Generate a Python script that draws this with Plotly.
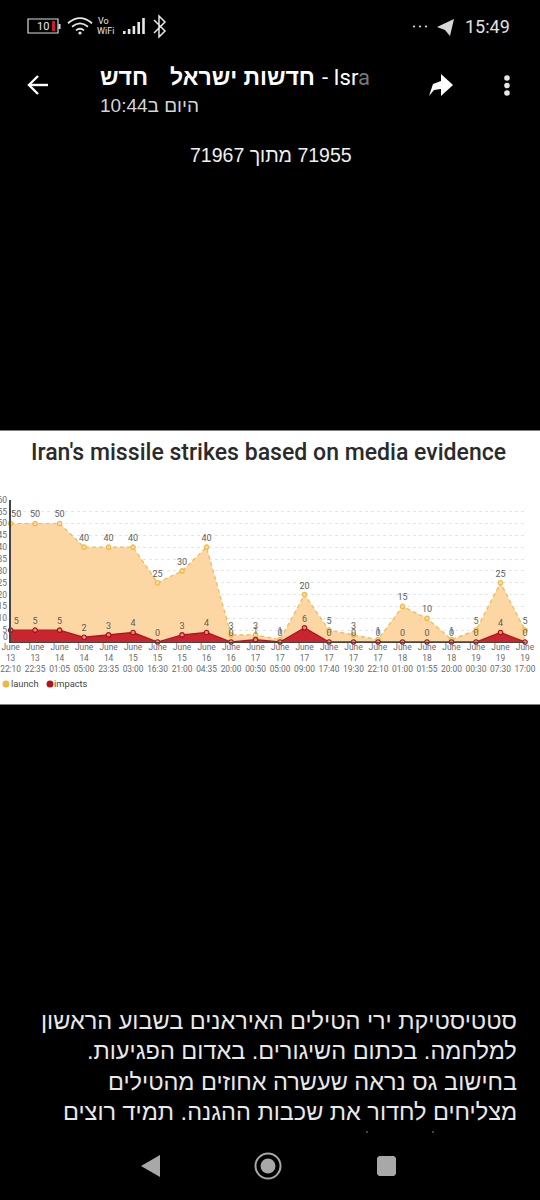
import plotly.graph_objects as go

W, H = 540, 1200

# ---- data ----
days = ["13","13","14","14","14","15","15","15","16","16","17","17","17","17","17","17","18","18","18","19","19","19"]
times = ["22:10","22:35","01:05","05:00","23:35","03:00","16:30","21:00","04:35","20:00","00:50","05:00",
         "09:00","17:40","19:30","22:10","01:00","01:55","20:00","00:30","07:30","17:00"]
launch = [50,50,50,40,40,40,25,30,40,3,3,1,20,5,3,1,15,10,1,5,25,5]
impacts = [5,5,5,2,3,4,0,3,4,0,1,0,6,0,0,0,0,0,0,0,4,0]
y_ticks = [5,10,15,20,25,30,35,40,45,50,55,60]
categories = [f"June<br>{d}<br>{t}" for d, t in zip(days, times)]
title_text = "Iran's missile strikes based on media evidence"
body_lines = ["סטטיסטיקת ירי הטילים האיראנים בשבוע הראשון",
              "למלחמה. בכתום השיגורים. באדום הפגיעות.",
              "בחישוב גס נראה שעשרה אחוזים מהטילים",
              "מצליחים לחדור את שכבות ההגנה. תמיד רוצים"]

def X(p): return p / W
def Y(p): return 1 - p / H
def path(*pts, close=True):
    return "M " + " L ".join(f"{X(a):.5f},{Y(b):.5f}" for a, b in pts) + (" Z" if close else "")

LATIN = "Roboto"
HEB = "Liberation Sans"
GREY = "#6a6a6a"
NOFILL = "rgba(0,0,0,0)"
shapes, notes = [], []

def rect(x0, y0, x1, y1, fill, line=None, lw=0, layer="below"):
    shapes.append(dict(type="rect", xref="paper", yref="paper", x0=X(x0), x1=X(x1), y0=Y(y0), y1=Y(y1),
                       fillcolor=fill, line=dict(color=line or fill, width=lw), layer=layer))
def poly(pts, fill, close=True, line=None, lw=0):
    shapes.append(dict(type="path", xref="paper", yref="paper", path=path(*pts, close=close),
                       fillcolor=fill, line=dict(color=line or fill, width=lw), layer="above"))
def circ(cx, cy, r, fill, line=None, lw=0):
    shapes.append(dict(type="circle", xref="paper", yref="paper", x0=X(cx-r), x1=X(cx+r), y0=Y(cy-r), y1=Y(cy+r),
                       fillcolor=fill, line=dict(color=line or fill, width=lw), layer="above"))
def note(text, x, y, size, color, anchor="left", family=LATIN):
    notes.append(dict(text=text, xref="paper", yref="paper", x=X(x), y=Y(y), xanchor=anchor, yanchor="middle",
                      showarrow=False, font=dict(size=size, color=color, family=family), align=anchor))

# white chart panel
rect(0, 430.5, 540, 704.5, "#ffffff", layer="below")

# status bar
shapes.append(dict(type="rect", xref="paper", yref="paper", x0=X(28), x1=X(58), y0=Y(19), y1=Y(33),
                   line=dict(color="#dddddd", width=1.2), fillcolor=NOFILL, layer="above"))
rect(58.5, 24, 60.5, 29, "#dddddd", layer="above")
rect(52, 21, 55, 31, "#c8202a", layer="above")
note("10", 43, 26.5, 11, "#e8e8e8", "center")
for r, w in [(12, 1.8), (8, 1.8), (4, 1.8)]:
    shapes.append(dict(type="path", xref="paper", yref="paper", layer="above",
        path=f"M {X(80-r):.5f},{Y(34-r*0.9):.5f} Q {X(80):.5f},{Y(34-r*1.75):.5f} {X(80+r):.5f},{Y(34-r*0.9):.5f}",
        line=dict(color="#e8e8e8", width=w)))
circ(80, 33, 1.6, "#e8e8e8")
note("Vo", 96, 21, 9, "#e8e8e8")
note("WiFi", 95, 31, 9, "#e8e8e8")
for i, h in enumerate([3, 5, 8, 12, 16]):
    rect(123 + i * 4.8, 34 - h, 125.6 + i * 4.8, 34, "#e8e8e8", layer="above")
poly([(154,20),(165,31),(159,37),(159,16),(165,22),(154,33)], NOFILL, close=False, line="#e8e8e8", lw=1.5)
for cx in (414, 420, 426):
    circ(cx, 26.5, 1.1, "#dddddd")
poly([(437,27),(454,19),(450,36),(445,30)], "#d8d8d8")
note("15:49", 512, 26.5, 18, "#e0e0e0", "right")

# header
poly([(48,85),(29,85)], NOFILL, close=False, line="#ffffff", lw=2.4)
poly([(38,76),(29,85),(38,94)], NOFILL, close=False, line="#ffffff", lw=2.4)
note("<b>חדש</b>", 98, 77, 23, "#ffffff", "left", HEB)
note("<b>חדשות ישראל</b>", 317, 77, 23, "#ffffff", "right", HEB)
note("- Isr", 320, 77, 22, "#ffffff", "left", LATIN)
note("a", 356, 77, 22, "#777777", "left", LATIN)
note("\u200fהיום ב10:44\u200f", 201, 105, 19, "#d5d5d5", "right", HEB)
poly([(429,96),(433,84),(441,81),(441,74),(453,85),(441,96),(441,89),(434,90)], "#ffffff")
for cy in (78, 85.5, 93):
    circ(507, cy, 2.8, "#e8e8e8")
note("\u200f71955 מתוך 71967\u200f", 270.5, 155, 19.5, "#f0f0f0", "center", HEB)

# body text and nav bar
for line, y in zip(body_lines, [1021, 1051, 1082, 1112]):
    note(f"\u200f{line}\u200f", 519, y, 23.5, "#e8e8e8", "right", HEB)
circ(367, 1132, 0.9, "#666666")
circ(433, 1132, 0.9, "#666666")
poly([(160,1155),(160,1177),(141,1166)], "#a8a8a8")
circ(268, 1166, 12.5, NOFILL, "#a8a8a8", 2)
circ(268, 1166, 7.5, "#a8a8a8")
poly([(379,1156),(394,1156),(396,1158),(396,1174),(394,1176),(379,1176),(377,1174),(377,1158)], "#a8a8a8")

# chart chrome: lowest tick label sits above its tick in the reference; legend row
note("0", 10, 637, 8.5, GREY, "right")
circ(6, 684, 3.5, "#efb93f")
note("launch", 9, 684, 9.3, "#444444", "left")
circ(50, 684, 3.5, "#b5121f")
note("impacts", 52, 684, 9.3, "#444444", "left")

labelled = dict(mode="lines+markers+text", cliponaxis=False, textposition="top center",
                textfont=dict(size=9, color="#5c5c5c", family=LATIN), showlegend=False, hoverinfo="skip")
first_shift = ["&#160;&#160;&#160;&#160;&#160;%{y}"] + ["%{y}"] * (len(categories) - 1)

fig = go.Figure()
fig.add_trace(go.Scatter(x=categories, y=launch, name="launch", fill="tozeroy", fillcolor="#fcd6a3",
                         line=dict(color="#efbb4a", width=1.2, dash="4px,3px", shape="linear"),
                         marker=dict(size=4.5, color="#fcd6a3", line=dict(color="#efb93f", width=1.2)),
                         texttemplate=first_shift, **labelled))
fig.add_trace(go.Scatter(x=categories, y=impacts, name="impacts", fill="tozeroy", fillcolor="#c9252f",
                         line=dict(color="#b5121f", width=1.3, shape="linear"),
                         marker=dict(size=4.5, color="#e88a7e", line=dict(color="#a80f1c", width=1.2)),
                         texttemplate=first_shift, **labelled))

fig.update_layout(
    width=W, height=H, margin=dict(l=0, r=0, t=0, b=0), showlegend=False,
    paper_bgcolor="#000000", plot_bgcolor=NOFILL,
    shapes=shapes, annotations=notes,
    title=dict(text=title_text, x=268.5 / W, xanchor="center", y=Y(452), yanchor="middle",
               font=dict(size=23, color="#2b2b2b", family="Roboto Medium, Roboto")),
    xaxis=dict(domain=[X(10.6), X(525)], range=[0, 21], type="category", categoryorder="array",
               categoryarray=categories, showgrid=False, zeroline=False, showline=True, linecolor="#444444",
               linewidth=1.2, ticks="", tickangle=0, automargin=False, ticklabelstandoff=-3,
               tickfont=dict(size=8.4, color=GREY, family=LATIN)),
    yaxis=dict(domain=[Y(642), Y(499.8)], range=[0, 60], tickvals=y_ticks, showgrid=True, griddash="dot",
               gridcolor="#e6e6e6", gridwidth=1, zeroline=False, showline=True, linecolor="#444444", linewidth=1.5,
               ticks="", automargin=False, tickfont=dict(size=8.5, color=GREY, family=LATIN)),
)

fig.write_html("out.html", config=dict(displayModeBar=False),
               post_script="document.body.style.margin='0';document.body.style.background='#000';")
